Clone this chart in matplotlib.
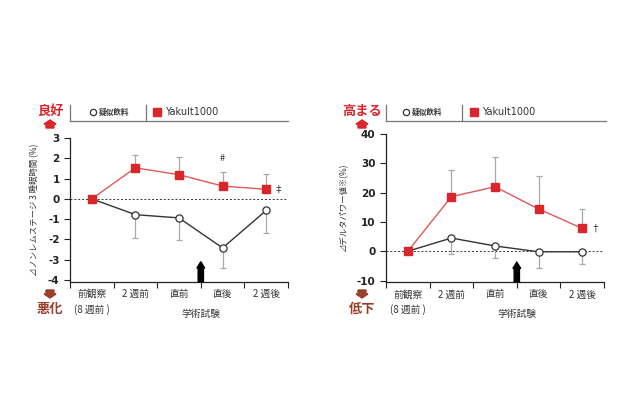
import matplotlib
matplotlib.use("Agg")
import matplotlib.pyplot as plt
from matplotlib.lines import Line2D
from matplotlib.patches import Polygon

plt.rcParams["font.family"] = ["Noto Sans CJK JP", "DejaVu Sans"]

# ---- data ----
categories = ["前観察\n(8 週前 )", "2 週前", "直前", "直後", "2 週後"]

nrem_yakult = [0, 1.53, 1.19, 0.63, 0.47]
nrem_yakult_err = [0, 0.65, 0.89, 0.69, 0.74]
nrem_placebo = [0, -0.78, -0.94, -2.42, -0.57]
nrem_placebo_err = [0, 1.14, 1.08, 0.97, 1.09]

delta_yakult = [0, 18.6, 22.0, 14.4, 7.8]
delta_yakult_err = [0, 9.1, 10.0, 11.2, 6.7]
delta_placebo = [0, 4.5, 1.8, -0.2, -0.2]
delta_placebo_err = [0, 5.6, 4.1, 5.5, 4.0]

RED = "#d8262b"
RED_LINE = "#e2585a"
DARK = "#333333"
GRAY = "#a8a8a8"
BROWN = "#9a3f2c"
W, H = 630, 420


def px(x, y):
    return x / W, 1 - y / H


def fig_line(fig, x0, y0, x1, y1, color="#777777", lw=0.9):
    a, b = px(x0, y0)
    c, d = px(x1, y1)
    fig.add_artist(Line2D([a, c], [b, d], color=color, lw=lw, transform=fig.transFigure))


def fig_marker(fig, x, y, **kw):
    a, b = px(x, y)
    fig.add_artist(Line2D([a], [b], transform=fig.transFigure, linestyle="none", **kw))


def house(fig, cx, cy, up=True, color=RED):
    # small arrow shaped like a house
    if up:
        pts = [(cx, cy - 5), (cx + 6, cy - 1), (cx + 4, cy - 1), (cx + 4, cy + 3),
               (cx - 4, cy + 3), (cx - 4, cy - 1), (cx - 6, cy - 1)]
    else:
        pts = [(cx, cy + 5), (cx + 6, cy + 1), (cx + 4, cy + 1), (cx + 4, cy - 3),
               (cx - 4, cy - 3), (cx - 4, cy + 1), (cx - 6, cy + 1)]
    pts = [px(x, y) for x, y in pts]
    fig.add_artist(Polygon(pts, closed=True, color=color, transform=fig.transFigure))


def plot_panel(fig, rect, yak, yak_err, pla, pla_err, ylim, yticks, ylabel_s, arrow_top):
    ax = fig.add_axes(rect)
    xs = list(range(len(categories)))

    ax.axhline(0, color=DARK, lw=0.7, ls=(0, (2, 2)), zorder=1)

    ax.errorbar(xs[1:], yak[1:], yerr=[[0] * 4, yak_err[1:]], fmt="none",
                ecolor=GRAY, elinewidth=0.9, capsize=2, capthick=0.9, zorder=2)
    ax.errorbar(xs[1:], pla[1:], yerr=[pla_err[1:], [0] * 4], fmt="none",
                ecolor=GRAY, elinewidth=0.9, capsize=2, capthick=0.9, zorder=2)

    ax.plot(xs, pla, color=DARK, lw=1.0, marker="o", ms=5.2,
            mfc="white", mec=DARK, mew=0.9, zorder=3)
    ax.plot(xs, yak, color=RED_LINE, lw=1.0, marker="s", ms=5.6,
            mfc=RED, mec=RED, zorder=4)

    ax.set_xlim(-0.5, 4.5)
    ax.set_ylim(*ylim)
    ax.set_yticks(yticks)
    ax.set_yticklabels([str(t) for t in yticks], fontsize=7.5,
                       family=["Liberation Sans Narrow", "DejaVu Sans"], fontweight="bold",
                       color="#222222")
    ax.set_xticks([i - 0.5 for i in range(6)])
    ax.set_xticklabels([])
    ax.tick_params(axis="both", direction="out", length=4, width=0.8, color="#222222")
    for i, lab in enumerate(categories):
        ax.text(i, -0.05, lab, transform=ax.get_xaxis_transform(), ha="center", va="top",
                fontsize=7, color="#333333", linespacing=1.5)
    ax.text(2.5, -0.185, "学術試験", transform=ax.get_xaxis_transform(), ha="center",
            va="top", fontsize=7, color="#333333")

    for s in ["top", "right"]:
        ax.spines[s].set_visible(False)
    for s in ["left", "bottom"]:
        ax.spines[s].set_color("#222222")
        ax.spines[s].set_linewidth(0.9)

    ax.set_ylabel(ylabel_s, fontsize=6, color="#333333", labelpad=6, style="italic")

    ax.annotate("", xy=(2.5, arrow_top), xytext=(2.5, ylim[0]),
                arrowprops=dict(arrowstyle="simple,head_width=0.55,head_length=0.45,tail_width=0.38",
                                color="black", mutation_scale=10, shrinkA=0, shrinkB=0),
                zorder=5)
    return ax


fig = plt.figure(figsize=(6.3, 4.2), dpi=100)
fig.patch.set_facecolor("white")

# left panel: 70..288 px wide, 138..282 px tall
axl = plot_panel(fig, [70 / W, 1 - 282 / H, 218 / W, 144 / H],
                 nrem_yakult, nrem_yakult_err, nrem_placebo, nrem_placebo_err,
                 (-4.1, 3.0), [3, 2, 1, 0, -1, -2, -3, -4],
                 "⊿ノンレムステージ 3 睡眠時間 (%)", -3.1)
axl.text(3, 2.0, "#", ha="center", va="center", fontsize=6.5, color="#333333")
axl.text(4.28, 0.47, "‡", ha="center", va="center", fontsize=7, color="#333333")

# right panel: 386..604 px wide, 134..282 px tall
axr = plot_panel(fig, [386 / W, 1 - 282 / H, 218 / W, 148 / H],
                 delta_yakult, delta_yakult_err, delta_placebo, delta_placebo_err,
                 (-10.5, 40), [40, 30, 20, 10, 0, -10],
                 "⊿デルタパワー値※(%)", -3.7)
axr.text(4.3, 7.8, "†", ha="center", va="center", fontsize=7, color="#333333")

# headers and legends
for x0, x1, word, word_x, div_x, leg1_x, leg2_x, bottom_word in [
    (70, 288, "良好", 50, 146, 93, 157, "悪化"),
    (386, 606, "高まる", 362, 462, 406, 474, "低下"),
]:
    fig_line(fig, x0, 105, x0, 121)
    fig_line(fig, x0, 121, x1, 121)
    fig_line(fig, div_x, 105, div_x, 121)
    fig.text(*px(word_x, 111), word, color=RED, fontsize=9.5, fontweight="bold",
             ha="center", va="center")
    house(fig, word_x, 125, up=True, color=RED)
    fig_marker(fig, leg1_x, 112, marker="o", ms=4.5, mfc="white", mec=DARK, mew=0.9)
    fig.text(*px(leg1_x + 6, 112), "疑似飲料", fontsize=5.5, color="#333333",
             ha="left", va="center", fontweight="bold")
    fig_marker(fig, leg2_x, 112, marker="s", ms=5.5, mfc=RED, mec=RED)
    fig.text(*px(leg2_x + 8, 112), "Yakult1000", fontsize=7, color="#333333",
             ha="left", va="center", family=["DejaVu Sans"])
    house(fig, word_x, 293, up=False, color=BROWN)
    fig.text(*px(word_x, 309), bottom_word, color=BROWN, fontsize=9.5, fontweight="bold",
             ha="center", va="center")

fig.savefig("out.png", dpi=100, facecolor="white")
